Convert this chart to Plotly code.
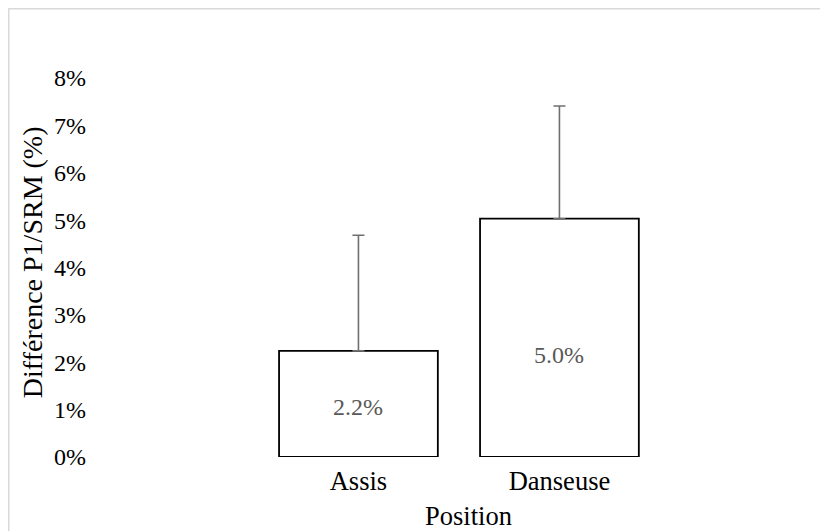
import plotly.graph_objects as go

categories = ["Assis", "Danseuse"]
values = [2.24, 5.03]
errors_plus = [2.44, 2.38]
value_labels = ["2.2%", "5.0%"]
label_shift = [-3, -17]
y_tickvals = [0, 1, 2, 3, 4, 5, 6, 7, 8]
y_ticktext = ["0%", "1%", "2%", "3%", "4%", "5%", "6%", "7%", "8%"]

FONT = "Times New Roman, Liberation Serif, serif"
W, H = 828, 531
ML, MR, MT, MB = 95, 0, 70, 82.3
pw = W - ML - MR
ph = H - MT - MB

fig = go.Figure()
fig.add_trace(go.Bar(
    x=categories,
    y=values,
    width=0.79,
    marker=dict(color="white", line=dict(color="black", width=1.8)),
    error_y=dict(type="data", symmetric=False, array=errors_plus, arrayminus=[0, 0],
                 color="#6f6f6f", thickness=1.6, width=6),
    showlegend=False,
    hoverinfo="skip",
))

annotations = []
for c, v, t, s in zip(categories, values, value_labels, label_shift):
    annotations.append(dict(
        x=c, y=v / 2, xref="x", yref="y", text=t, showarrow=False,
        yshift=s, xanchor="center", yanchor="middle",
        font=dict(family=FONT, size=24, color="#595959"),
    ))

annotations += [
    dict(text="Différence P1/SRM (%)", xref="paper", yref="paper",
         x=(24 - ML) / pw, y=1 - (254 - MT) / ph, textangle=-90, showarrow=False,
         xanchor="center", yanchor="middle",
         font=dict(family=FONT, size=28, color="black")),
    dict(text="Position", xref="paper", yref="paper",
         x=(460 - ML) / pw, y=1 - (508 - MT) / ph, showarrow=False,
         xanchor="center", yanchor="middle",
         font=dict(family=FONT, size=26.5, color="black")),
]

fig.update_layout(
    width=W, height=H,
    margin=dict(l=ML, r=MR, t=MT, b=MB, autoexpand=False),
    paper_bgcolor="white",
    plot_bgcolor="white",
    font=dict(family=FONT, size=24, color="black"),
    xaxis=dict(
        range=[-1.271, 2.376],
        showgrid=False, zeroline=False, showline=False, ticks="",
        tickfont=dict(family=FONT, size=26.5, color="black"),
        ticklabelstandoff=5,
    ),
    yaxis=dict(
        range=[0, 8],
        tickvals=y_tickvals, ticktext=y_ticktext,
        showgrid=False, zeroline=False, showline=False, ticks="",
        tickfont=dict(family=FONT, size=24, color="black"),
        ticklabelstandoff=16,
    ),
    shapes=[dict(
        type="rect", xref="paper", yref="paper",
        x0=(0.5 - ML) / pw, x1=1.05,
        y0=-(MB + 20) / ph, y1=1 + (MT - 0.5) / ph,
        line=dict(color="#d9d9d9", width=2), fillcolor="rgba(0,0,0,0)", layer="below",
    )],
    annotations=annotations,
)

fig.write_html("out.html")
